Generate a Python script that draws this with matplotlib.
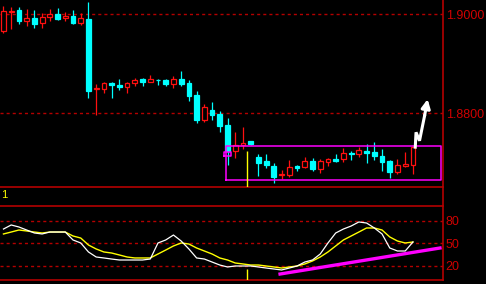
import matplotlib
matplotlib.use("Agg")
import matplotlib.pyplot as plt
from matplotlib.lines import Line2D

# candle data
opens = [1.8966, 1.9005, 1.9008, 1.8986, 1.8992, 1.8982, 1.8994, 1.9000, 1.8992, 1.8996,
         1.8982, 1.8990, 1.8848, 1.8848, 1.8861, 1.8857, 1.8853, 1.8861, 1.8869, 1.8863,
         1.8867, 1.8867, 1.8859, 1.8869, 1.8861, 1.8836, 1.8786, 1.8806, 1.8798, 1.8776,
         1.8723, 1.8735, 1.8743, 1.8711, 1.8703, 1.8693, 1.8675, 1.8675, 1.8693, 1.8691,
         1.8703, 1.8687, 1.8701, 1.8707, 1.8707, 1.8719, 1.8717, 1.8723, 1.8721, 1.8713,
         1.8703, 1.8681, 1.8693, 1.8695]
highs = [1.9016, 1.9014, 1.9014, 1.9010, 1.9008, 1.9002, 1.9010, 1.9012, 1.9004, 1.9008,
         1.9002, 1.9024, 1.8859, 1.8863, 1.8863, 1.8869, 1.8863, 1.8871, 1.8871, 1.8877,
         1.8869, 1.8869, 1.8875, 1.8885, 1.8867, 1.8844, 1.8818, 1.8822, 1.8804, 1.8790,
         1.8762, 1.8772, 1.8743, 1.8717, 1.8717, 1.8699, 1.8685, 1.8705, 1.8695, 1.8711,
         1.8709, 1.8707, 1.8709, 1.8717, 1.8729, 1.8723, 1.8731, 1.8737, 1.8741, 1.8727,
         1.8705, 1.8707, 1.8721, 1.8731]
lows = [1.8962, 1.8970, 1.8980, 1.8976, 1.8972, 1.8972, 1.8986, 1.8988, 1.8986, 1.8980,
        1.8978, 1.8830, 1.8796, 1.8840, 1.8830, 1.8846, 1.8840, 1.8855, 1.8855, 1.8863,
        1.8857, 1.8855, 1.8851, 1.8855, 1.8824, 1.8780, 1.8782, 1.8786, 1.8762, 1.8695,
        1.8709, 1.8727, 1.8735, 1.8673, 1.8689, 1.8659, 1.8667, 1.8671, 1.8683, 1.8689,
        1.8683, 1.8679, 1.8693, 1.8701, 1.8701, 1.8705, 1.8711, 1.8699, 1.8705, 1.8683,
        1.8669, 1.8677, 1.8691, 1.8677]
closes = [1.9006, 1.9006, 1.8986, 1.8992, 1.8980, 1.8994, 1.9000, 1.8990, 1.8996, 1.8982,
          1.8992, 1.8844, 1.8850, 1.8861, 1.8857, 1.8853, 1.8861, 1.8867, 1.8863, 1.8869,
          1.8866, 1.8859, 1.8869, 1.8859, 1.8834, 1.8786, 1.8812, 1.8796, 1.8774, 1.8723,
          1.8735, 1.8739, 1.8737, 1.8699, 1.8695, 1.8671, 1.8677, 1.8691, 1.8689, 1.8703,
          1.8687, 1.8703, 1.8707, 1.8703, 1.8719, 1.8717, 1.8725, 1.8719, 1.8713, 1.8701,
          1.8681, 1.8695, 1.8697, 1.8731]

# oscillator lines (0-100 scale)
white_k = [69.3, 74.7, 72, 68, 64, 62.7, 65.3, 65.3, 65.3, 54.7,
           50.7, 38.7, 32, 30.7, 29.3, 28, 28, 28, 28, 29.3,
           50.7, 54.7, 61.3, 53.3, 42.7, 30.7, 29.3, 25.3, 21.3, 18.7,
           20, 20, 20, 18.7, 17.3, 16, 14.7, 17.3, 20, 25.3,
           28, 36, 50.7, 64, 69.3, 73.3, 78.7, 77.3, 70.7, 62.7,
           44, 40, 40, 52]
yellow_d = [62.7, 65.3, 68, 66.7, 65.3, 64, 65.3, 65.3, 65.3, 60,
            57.3, 48, 42.7, 38.7, 37.3, 34.7, 32, 30.7, 30.7, 30.7,
            36, 41.3, 46.7, 50.7, 49.3, 44, 40, 36, 30.7, 28,
            24, 22.7, 21.3, 21.3, 20, 18.7, 17.3, 18.7, 20, 22.7,
            26.7, 32, 38.7, 46.7, 54.7, 60, 65.3, 70.7, 70.7, 68,
            58.7, 53.3, 50.7, 52]

price_ticks = [1.90, 1.88]
price_labels = ["1.9000", "1.8800"]
osc_ticks = [80, 50, 20]
osc_labels = ["80", "50", "20"]

# annotations drawn on top
box_x = [28.8, 56.6]
box_y = [1.8665, 1.8733]
marker_x = [28.5, 29.4]
marker_y = [1.8713, 1.8721]
arrow_x = [53.3, 53.4, 53.85, 54.5]
arrow_y = [1.8731, 1.8761, 1.8744, 1.8794]
arrow_tip = (54.9, 1.8828)
trend_x = [35.8, 56.5]
trend_y = [9.3, 44]
flag_x = 31.5
flag_price = 1.8723
flag_osc = 16

RED = "#ff1010"
CYAN = "#00ffff"
GRID = "#b40000"
LABEL = "#d00000"
FONT = ["Liberation Sans Narrow", "Liberation Sans", "DejaVu Sans"]
plt.rcParams["lines.scale_dashes"] = False

W, H = 486, 284
fig = plt.figure(figsize=(W / 100, H / 100), dpi=100, facecolor="black")
ax = fig.add_axes([0, (H - 187) / H, 443 / W, 187 / H], facecolor="black")
ax2 = fig.add_axes([0, 4 / H, 443 / W, 74 / H], facecolor="black")

xlim = (-0.45, 56.89)
for a in (ax, ax2):
    a.set_xlim(*xlim)
    a.set_xticks([])
    for s in ("left", "right", "top"):
        a.spines[s].set_visible(False)
    a.spines["bottom"].set_color(GRID)
    a.spines["bottom"].set_linewidth(1.2)
    a.yaxis.tick_right()
    a.tick_params(axis="y", length=0, pad=2, colors=LABEL, labelsize=9)
ax2.spines["top"].set_visible(True)
ax2.spines["top"].set_color(GRID)
ax2.spines["top"].set_linewidth(1.2)

# main panel
ax.set_ylim(1.86505, 1.90283)
for t in price_ticks:
    ax.axhline(t, color=GRID, lw=1, dashes=(2.2, 2.2))
ax.set_yticks(price_ticks)
ax.set_yticklabels(price_labels, family=FONT)

for i, (o, h, l, c) in enumerate(zip(opens, highs, lows, closes)):
    up = c > o
    col = RED if up else CYAN
    ax.vlines(i, l, h, color=col, lw=0.9, zorder=2)
    bottom = min(o, c)
    height = max(abs(c - o), 0.00006)
    ax.bar(i, height, bottom=bottom, width=0.62,
           facecolor="black" if up else CYAN, edgecolor=col,
           lw=0.9, zorder=3)

ax.plot([box_x[0], box_x[1], box_x[1], box_x[0], box_x[0]],
        [box_y[0], box_y[0], box_y[1], box_y[1], box_y[0]],
        color="#ff00ff", lw=1.1, zorder=4)
ax.plot([marker_x[0], marker_x[1], marker_x[1], marker_x[0], marker_x[0]],
        [marker_y[0], marker_y[0], marker_y[1], marker_y[1], marker_y[0]],
        color="#ff00ff", lw=1.1, zorder=4)
ax.vlines(flag_x, 1.86505, flag_price, color="#ffff00", lw=1, zorder=4)
ax.plot(arrow_x, arrow_y, color="white", lw=2.2, zorder=5,
        solid_joinstyle="miter")
ax.annotate("", xy=arrow_tip, xytext=(arrow_x[-1], arrow_y[-1]),
            arrowprops=dict(arrowstyle="-|>", color="white", lw=2.2,
                            mutation_scale=13, shrinkA=0, shrinkB=0),
            zorder=5)

# oscillator panel
ax2.set_ylim(1.33, 100)
for t in osc_ticks:
    ax2.axhline(t, color=GRID, lw=1, dashes=(2.2, 2.2))
ax2.set_yticks(osc_ticks)
ax2.set_yticklabels(osc_labels, family=FONT)
x = range(len(white_k))
ax2.plot(x, yellow_d, color="#ffff00", lw=1, zorder=3)
ax2.plot(x, white_k, color="white", lw=0.9, zorder=3)
ax2.plot(trend_x, trend_y, color="#ff00ff", lw=2.4, zorder=4)
ax2.vlines(flag_x, 1.33, flag_osc, color="#ffff00", lw=1, zorder=4)

fig.add_artist(Line2D([443 / W, 443 / W], [4 / H, 1], color=GRID, lw=1.2))
fig.text(1 / W, 1 - 195 / H, "1", color="#ffff00", fontsize=8, family=FONT,
         va="center", ha="left")

fig.savefig("out.png", dpi=100, facecolor="black")
